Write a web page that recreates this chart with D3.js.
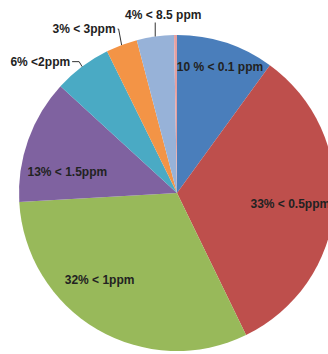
<!DOCTYPE html>
<html>
<head>
<meta charset="utf-8">
<script src="https://cdn.jsdelivr.net/npm/d3@7"></script>
<style>
  body { margin: 0; background: #fff; }
  svg { display: block; }
</style>
</head>
<body>
<div id="chart"></div>
<script>
// slice names and shares (percent), clockwise from 12 o'clock
const categories = ["< 0.1 ppm", "< 0.5ppm", "< 1ppm", "< 1.5ppm", "<2ppm", "< 3ppm", "< 8.5 ppm", "other"];
const shares = [10, 32.8, 31.3, 12.7, 5.9, 3.2, 3.8, 0.3];
const labels = ["10 % < 0.1 ppm", "33% < 0.5ppm", "32% < 1ppm", "13% < 1.5ppm", "6% <2ppm", "3% < 3ppm", "4% < 8.5 ppm", ""];
const colors = ["#4a7ebb", "#be4f4c", "#98b95a", "#7f62a0", "#4aaac4", "#f39446", "#97b2d8", "#e6a0a0"];

const width = 328;
const height = 354;
const cx = 177;
const cy = 193;
const radius = 158;

const svg = d3.select("#chart").append("svg")
  .attr("width", width)
  .attr("height", height);

const g = svg.append("g").attr("transform", `translate(${cx},${cy})`);

const pie = d3.pie().sort(null).value(d => d.v);
const arcs = pie(shares.map((v, i) => ({ v, i })));

const arc = d3.arc().innerRadius(0).outerRadius(radius);

g.selectAll("path.slice")
  .data(arcs)
  .enter().append("path")
  .attr("class", "slice")
  .attr("d", arc)
  .attr("fill", d => colors[d.data.i]);

// point on a circle of radius r at the slice's middle angle
const polar = (d, r) => {
  const a = (d.startAngle + d.endAngle) / 2;
  return [r * Math.sin(a), -r * Math.cos(a)];
};

// label placement: inside labels use radius fraction + nudge,
// outside labels get a leader line (elbow offset, then label end)
const labelLayout = [
  { rf: 0.84, dx: 2, dy: 0 },
  { rf: 0.72, dx: 0, dy: 1 },
  { rf: 0.73, dx: -19, dy: -13 },
  { rf: 0.71, dx: -4, dy: 16 },
  { out: true, elbow: [-3, -5], end: [-10, -5], anchor: "end" },
  { out: true, elbow: [-3, -16], end: [-4, -16], anchor: "end" },
  { out: true, elbow: [0, -14], end: [8, -22], anchor: "middle" },
  null
];

const font = "'Liberation Sans', Arial, sans-serif";
const fontSize = 12;

arcs.forEach((d, k) => {
  const lay = labelLayout[k];
  if (!lay || !labels[k]) return;
  let tx, ty, anchor = "middle";
  if (!lay.out) {
    const [x, y] = polar(d, radius * lay.rf);
    tx = x + lay.dx;
    ty = y + lay.dy;
  } else {
    const [ex, ey] = polar(d, radius);
    const p1 = [ex + lay.elbow[0], ey + lay.elbow[1]];
    const pts = [[ex, ey], p1];
    anchor = lay.anchor;
    if (anchor === "end") {
      const p2 = [ex + lay.end[0], ey + lay.end[1]];
      pts.push(p2);
      tx = p2[0] - 2;
      ty = p2[1];
    } else {
      tx = ex + lay.end[0];
      ty = ey + lay.end[1];
    }
    g.append("path")
      .attr("d", d3.line()(pts))
      .attr("fill", "none")
      .attr("stroke", "#333")
      .attr("stroke-width", 1);
  }
  g.append("text")
    .attr("x", tx)
    .attr("y", ty)
    .attr("dy", "0.35em")
    .attr("text-anchor", anchor)
    .attr("font-family", font)
    .attr("font-weight", "bold")
    .attr("font-size", fontSize)
    .attr("fill", "#222")
    .text(labels[k]);
});
</script>
</body>
</html>
